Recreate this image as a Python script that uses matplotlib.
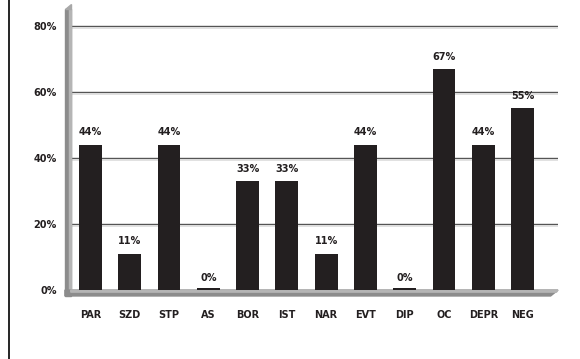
import matplotlib.pyplot as plt
from matplotlib.patches import Rectangle, Polygon
from matplotlib.lines import Line2D

# --- Data ---
categories = ['PAR', 'SZD', 'STP', 'AS', 'BOR', 'IST', 'NAR', 'EVT', 'DIP', 'OC', 'DEPR', 'NEG']
values = [44, 11, 44, 0, 33, 33, 11, 44, 0, 67, 44, 55]
y_ticks = [0, 20, 40, 60, 80]

fig = plt.figure(figsize=(5.8, 3.59), dpi=100)
ax = fig.add_axes([0.122, 0.192, 0.84, 0.782])

x = list(range(len(categories)))
ax.bar(x, values, width=0.58, color='#231f20', zorder=3)
# zero-value bars still show a thin sliver on the floor
for xi, v in zip(x, values):
    if v == 0:
        ax.bar(xi, 0.6, width=0.58, color='#231f20', zorder=3)

# value labels
for xi, v in zip(x, values):
    ax.text(xi, v + 2.2, f'{v}%', ha='center', va='bottom',
            fontsize=7, fontweight='bold', color='#231f20', zorder=4)

# gridlines
for t in y_ticks[1:]:
    ax.axhline(t, color='#555555', lw=1.0, zorder=1)
    ax.axhline(t - 0.55, color='#d5d5d5', lw=0.5, zorder=1)

ax.set_xlim(-0.5, 11.9)
ax.set_ylim(0, 85)
ax.set_yticks(y_ticks)
ax.set_yticklabels([f'{t}%' for t in y_ticks], fontsize=7, fontweight='bold')
ax.set_xticks(x)
ax.set_xticklabels(categories, fontsize=7, fontweight='bold')
ax.tick_params(axis='both', length=0, colors='#231f20')
ax.tick_params(axis='y', pad=10)
ax.tick_params(axis='x', pad=14)
for s in ax.spines.values():
    s.set_visible(False)

# pseudo-3D wall and floor
wall_w = 0.012
floor_h = 0.021
ax.add_patch(Rectangle((-wall_w, -floor_h), wall_w, 1.0 + floor_h,
                       transform=ax.transAxes, color='#8c8c8c', clip_on=False, zorder=2))
ax.add_patch(Rectangle((-wall_w * 0.35, 0), wall_w * 0.35, 1.0,
                       transform=ax.transAxes, color='#b5b5b5', clip_on=False, zorder=2))
ax.add_patch(Polygon([(-wall_w, 1.0), (0, 1.0), (0, 1.02)], closed=True,
                     transform=ax.transAxes, color='#a8a8a8', clip_on=False, zorder=2))
ax.add_patch(Polygon([(-wall_w, -floor_h), (0.985, -floor_h), (1.0, 0), (-wall_w, 0)],
                     closed=True, transform=ax.transAxes, color='#8c8c8c',
                     clip_on=False, zorder=2))
ax.add_patch(Polygon([(0, 0), (1.0, 0), (0.997, -floor_h * 0.35), (0, -floor_h * 0.35)],
                     closed=True, transform=ax.transAxes, color='#b5b5b5',
                     clip_on=False, zorder=2))

# left frame line
fig.add_artist(Line2D([9 / 580, 9 / 580], [0, 1], transform=fig.transFigure,
                      color='black', lw=1.2))

fig.savefig('out.png', dpi=100)
